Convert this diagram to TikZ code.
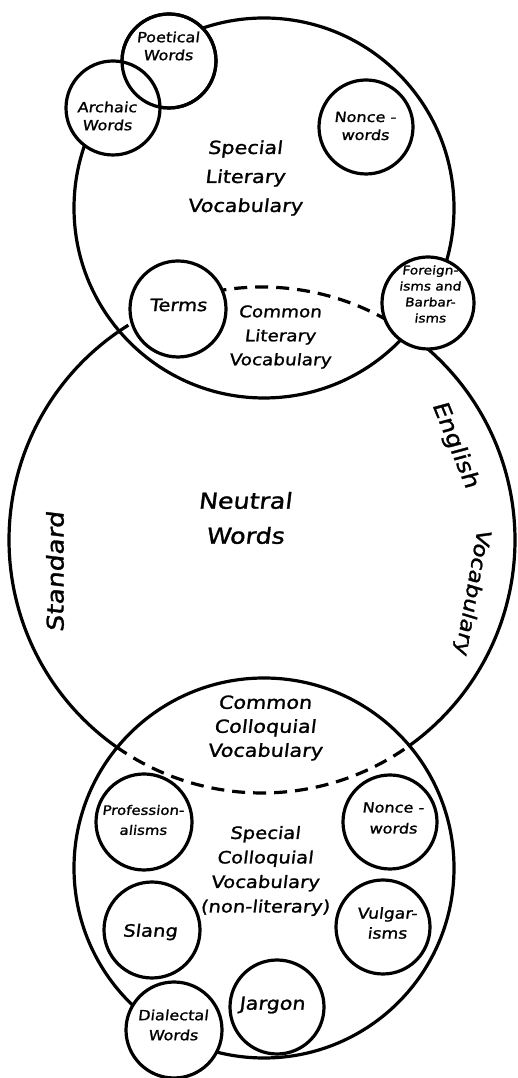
\documentclass[tikz,border=0pt]{standalone}
\usepackage{fontspec}
\newfontfamily\hand[FakeStretch=1.15,FakeSlant=0.12,FakeBold=1.3]{DejaVu Sans}
\newcommand{\hfs}[2]{\hand\fontsize{#1}{#2}\selectfont}
\begin{document}
\begin{tikzpicture}[x=1pt,y=1pt,
  ring/.style={line width=3.2pt},
  dashring/.style={ring, dash pattern=on 13pt off 8pt},
  sm/.style={circle, draw, line width=3.2pt, fill=white, inner sep=0pt, minimum size=95pt},
  lbl/.style={align=center, inner sep=0pt},
  ]
\useasboundingbox (0,0) rectangle (518,1078);
\coordinate (T) at (264,870);
\coordinate (B) at (262,538);
\coordinate (C) at (264,210);

% English vocabulary circle: solid outside, dashed inside the other two
\draw[ring] ([shift={(-54.7:253)}]B) arc[start angle=-54.7,end angle=55.3,radius=253];
\draw[ring] ([shift={(124.7:253)}]B) arc[start angle=124.7,end angle=234.7,radius=253];
\draw[dashring] ([shift={(55.3:253)}]B) arc[start angle=55.3,end angle=124.7,radius=253];
\draw[dashring] ([shift={(234.7:253)}]B) arc[start angle=234.7,end angle=305.3,radius=253];

\draw[ring] (T) circle[radius=190];
\draw[ring] (C) circle[radius=190];

% small circles
\node[sm, minimum size=94pt] (poet) at (169,1017) {};
\node[sm, minimum size=94pt] (arch) at (113,970) {};
\draw[ring] (poet.center) circle[radius=47];
\node[sm, minimum size=94pt] (nonceA) at (366,951) {};
\node[sm, minimum size=96pt] (terms) at (178,769) {};
\node[sm, minimum size=92pt] (foreign) at (428,775) {};
\node[sm, minimum size=96pt] (prof) at (144,256) {};
\node[sm, minimum size=94pt] (nonceB) at (390,256) {};
\node[sm, minimum size=96pt] (slang) at (152,148) {};
\node[sm, minimum size=94pt] (vulg) at (383,151) {};
\node[sm, minimum size=94pt] (jargon) at (277,71) {};
\node[sm, minimum size=96pt] (dial) at (174,48) {};

% big labels
\node[lbl, font=\hfs{18}{29}] (slv) at (245,900) {Special\\Literary\\Vocabulary};
\node[lbl, font=\hfs{16}{24}] (clv) at (280,741) {Common\\Literary\\Vocabulary};
\node[lbl, font=\hfs{22}{35}] (nw) at (245,560) {Neutral\\Words};
\node[lbl, font=\hfs{23}{28}, rotate=90] (std) at (55,506) {Standard};
\node[lbl, font=\hfs{22}{28}, rotate=-68] (eng) at (455,633) {English};
\node[lbl, font=\hfs{20}{28}, rotate=-100] (voc) at (472,486) {Vocabulary};
\node[lbl, font=\hfs{18}{24}] (ccv) at (265,350) {Common\\Colloquial\\Vocabulary};
\node[lbl, font=\hfs{17}{24.5}] (scv) at (265,207) {Special\\Colloquial\\Vocabulary\\(non-literary)};

% small labels
\node[lbl, font=\hfs{14}{18}] at (168,1032) {Poetical\\Words};
\node[lbl, font=\hfs{14}{18}] at (107,962) {Archaic\\Words};
\node[lbl, font=\hfs{14}{18}] at (365,952) {Nonce -\\words};
\node[lbl, font=\hfs{17}{20}] at (178,773) {Terms};
\node[lbl, font=\hfs{12}{16}] at (430,784) {Foreign-\\isms and\\Barbar-\\isms};
\node[lbl, font=\hfs{13}{20}] at (143,258) {Profession-\\alisms};
\node[lbl, font=\hfs{14}{21}] at (393,260) {Nonce -\\words};
\node[lbl, font=\hfs{17}{20}] at (150,146) {Slang};
\node[lbl, font=\hfs{15}{20}] at (387,155) {Vulgar-\\isms};
\node[lbl, font=\hfs{18}{20}] at (272,73) {Jargon};
\node[lbl, font=\hfs{14}{20}] at (173,53) {Dialectal\\Words};
\end{tikzpicture}
\end{document}
